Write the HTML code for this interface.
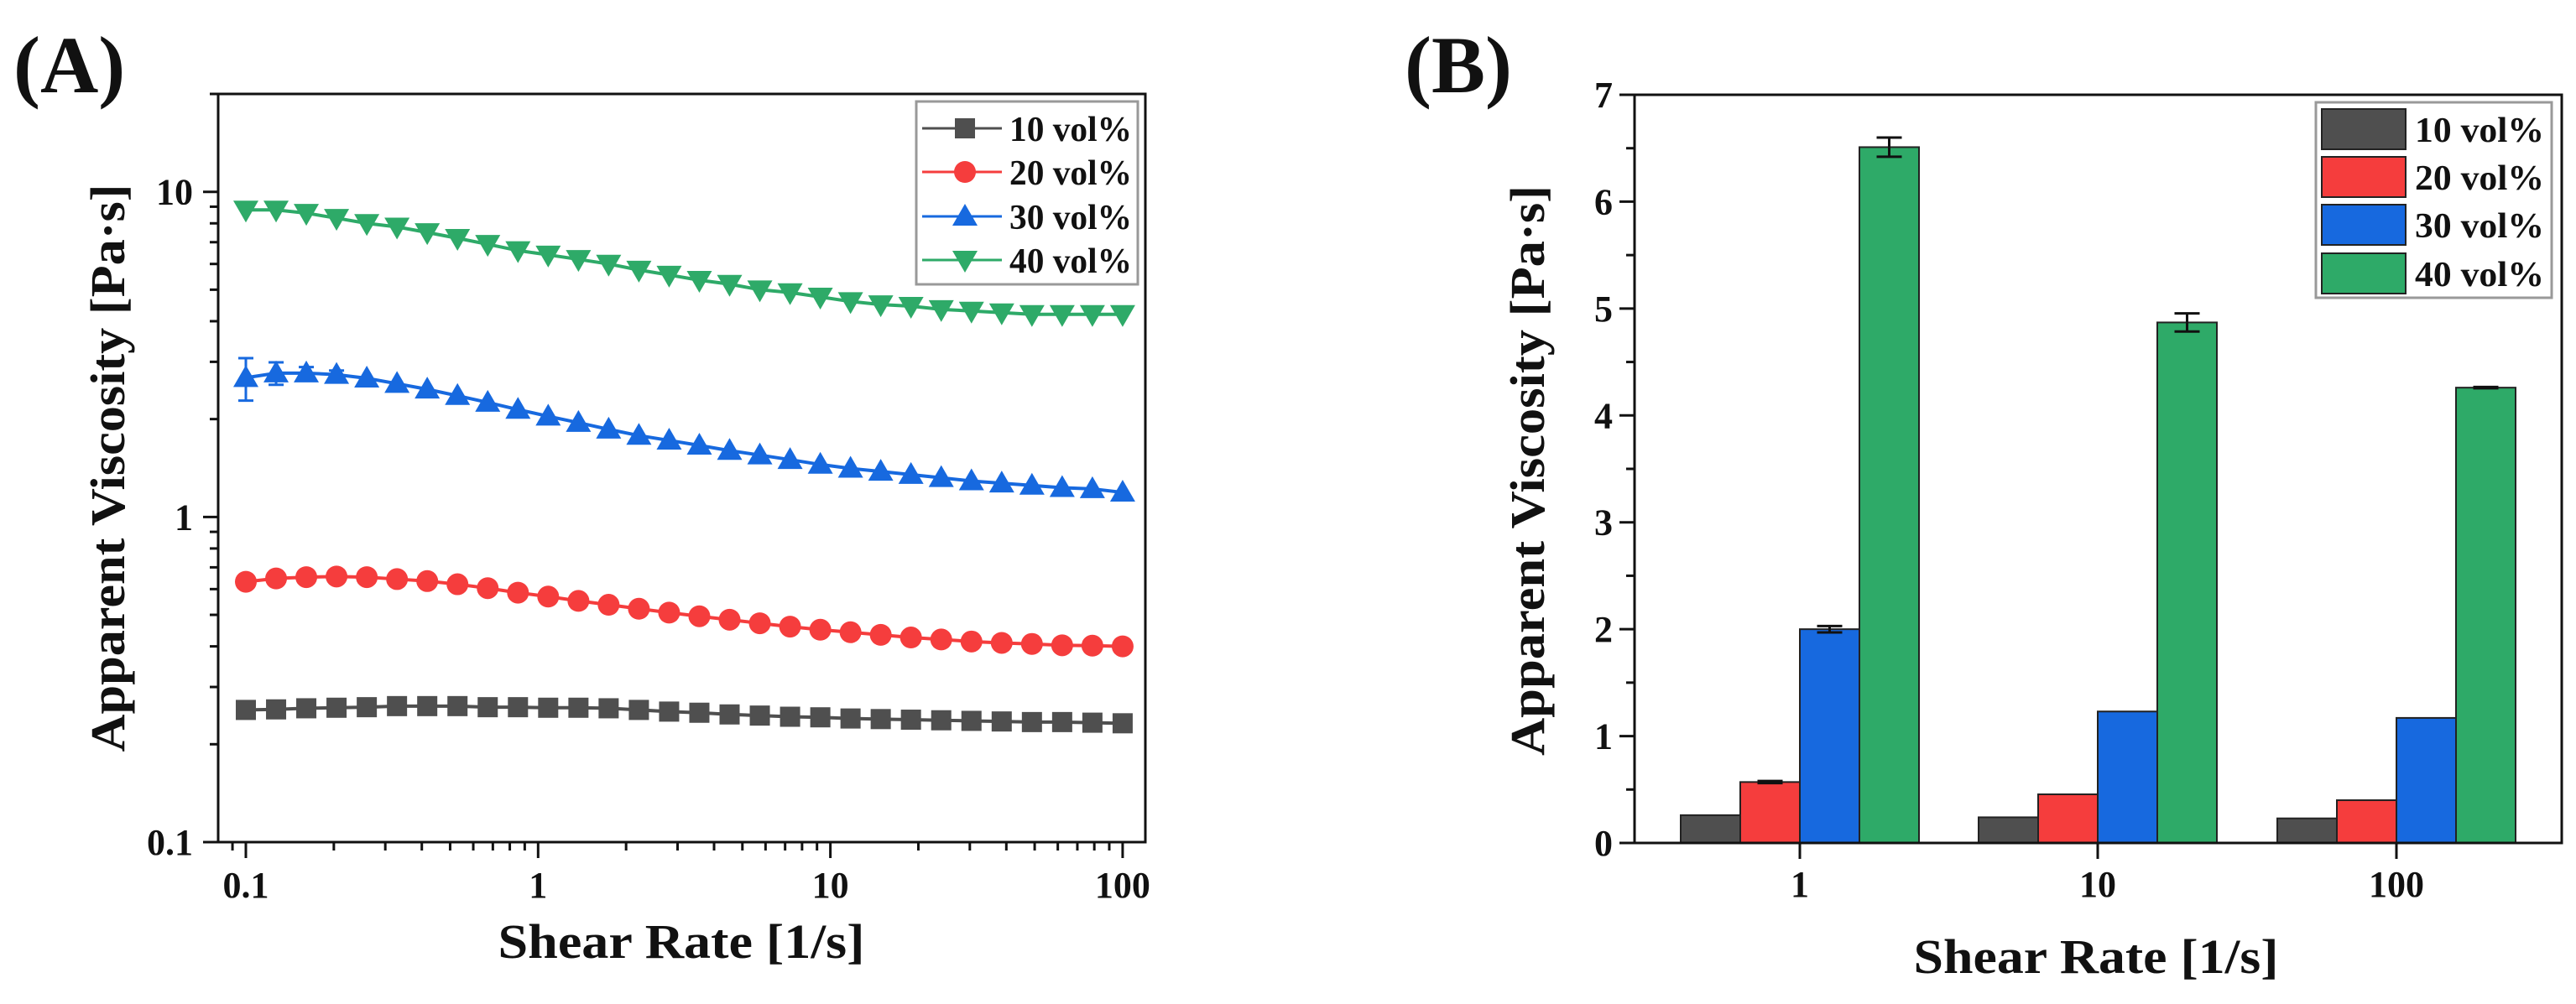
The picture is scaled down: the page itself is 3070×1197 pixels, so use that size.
<!DOCTYPE html>
<html><head><meta charset="utf-8"><style>
html,body{margin:0;padding:0;background:#fff;}
svg{display:block;}
text{font-family:"Liberation Serif",serif;font-weight:bold;fill:#111;}
</style></head><body>
<svg id="fig" xmlns="http://www.w3.org/2000/svg" width="3070" height="1197" viewBox="0 0 3070 1197">
<rect x="0" y="0" width="3070" height="1197" fill="#fff"/>
<text x="16" y="110" font-size="96">(A)</text>
<text x="1674" y="110" font-size="96">(B)</text>
<g id="A"></g>
<g id="B"></g>
</svg>
<script>
// ---------- Panel A data ----------
const shearRates = [0.1,0.1269,0.1610,0.2043,0.2593,0.3290,0.4175,0.5298,0.6723,0.8532,1.0826,1.374,1.743,2.212,2.807,3.562,4.520,5.736,7.279,9.237,11.72,14.87,18.87,23.95,30.39,38.57,48.94,62.10,78.80,100];
const visc10 = [0.255,0.256,0.258,0.259,0.26,0.262,0.262,0.262,0.26,0.26,0.259,0.259,0.258,0.255,0.252,0.25,0.247,0.245,0.243,0.242,0.24,0.239,0.238,0.237,0.236,0.235,0.234,0.234,0.233,0.232];
const visc20 = [0.632,0.647,0.653,0.656,0.653,0.644,0.635,0.621,0.604,0.585,0.569,0.552,0.537,0.522,0.508,0.495,0.483,0.471,0.46,0.45,0.442,0.434,0.426,0.42,0.414,0.41,0.407,0.403,0.402,0.40];
const visc30 = [2.68,2.77,2.77,2.74,2.67,2.57,2.47,2.36,2.25,2.14,2.04,1.95,1.86,1.78,1.72,1.66,1.60,1.55,1.50,1.45,1.41,1.38,1.35,1.32,1.29,1.27,1.25,1.23,1.22,1.19];
const err30 = [0.4,0.22,0.12,0.08,0.04,0.03,0.03,0.03,0.03,0.03,0.02,0.02,0.02,0.02,0.02,0.02,0.02,0.02,0.02,0.02,0.02,0.02,0.02,0.02,0.02,0.02,0.02,0.02,0.02,0.02];
const visc40 = [8.8,8.8,8.6,8.3,8.0,7.8,7.5,7.2,6.9,6.6,6.4,6.2,6.0,5.75,5.55,5.35,5.2,5.0,4.9,4.75,4.6,4.5,4.45,4.35,4.3,4.25,4.2,4.2,4.2,4.2];
const seriesLabels = ["10 vol%","20 vol%","30 vol%","40 vol%"];
const xTickLabelsA = ["0.1","1","10","100"];
const yTickLabelsA = ["0.1","1","10"];
// ---------- Panel B data ----------
const barCategories = ["1","10","100"];
const bar10 = [0.26,0.24,0.23];
const bar20 = [0.57,0.455,0.40];
const bar30 = [2.0,1.23,1.17];
const bar40 = [6.51,4.87,4.26];
const barErr10 = [0,0,0];
const barErr20 = [0.01,0,0];
const barErr30 = [0.03,0,0];
const barErr40 = [0.09,0.085,0.006];
const yTickLabelsB = ["0","1","2","3","4","5","6","7"];

const NS="http://www.w3.org/2000/svg";
const colors=["#4f4f4f","#f53d3d","#1769df","#2eaa68"];
function mk(tag,attrs,parent){const e=document.createElementNS(NS,tag);for(const k in attrs)e.setAttribute(k,attrs[k]);parent.appendChild(e);return e;}

// ===== Panel A =====
const A=document.getElementById('A');
const aL=260,aR=1365,aT=112,aB=1004;
const xlo=Math.log10(0.0804),xhi=Math.log10(119.6);
const ylo=-1,yhi=Math.log10(20);
const xA=v=>aL+(Math.log10(v)-xlo)/(xhi-xlo)*(aR-aL);
const yA=v=>aB-(Math.log10(v)-ylo)/(yhi-ylo)*(aB-aT);
let r=mk('rect',{x:aL,y:aT,width:aR-aL,height:aB-aT,fill:'none',stroke:'#111','stroke-width':3},A);


for(let d=-2;d<=2;d++){for(let m=1;m<10;m++){const v=m*Math.pow(10,d);if(v<0.0804||v>119.6)continue;const x=xA(v);
 const t=mk('line',{x1:x,x2:x,y1:aB,y2:aB+(m===1?19:10),stroke:'#111','stroke-width':3},A);
 
 }}
xTickLabelsA.forEach(s=>{const t=mk('text',{x:xA(parseFloat(s)),y:1070,'font-size':44,'text-anchor':'middle'},A);t.textContent=s;
 
 });
for(let d=-1;d<=1;d++){for(let m=1;m<10;m++){const v=m*Math.pow(10,d);if(v<0.1||v>20)continue;const y=yA(v);
 const t=mk('line',{x1:aL-(m===1?18:10),x2:aL,y1:y,y2:y,stroke:'#111','stroke-width':3},A);
 
 }}
yTickLabelsA.forEach(s=>{const t=mk('text',{x:230,y:yA(parseFloat(s))+15,'font-size':44,'text-anchor':'end'},A);t.textContent=s;
 
 });
let tt=mk('text',{x:812,y:1142,'font-size':58,'text-anchor':'middle',textLength:437,lengthAdjust:'spacingAndGlyphs'},A);tt.textContent='Shear Rate [1/s]';


tt=mk('text',{x:0,y:0,'font-size':58,'text-anchor':'middle',textLength:677,lengthAdjust:'spacingAndGlyphs',transform:'translate(148,558) rotate(-90)'},A);tt.textContent='Apparent Viscosity [Pa·s]';



function marker(kind,cx,cy,col,parent){
 let e;
 if(kind===0)e=mk('rect',{x:cx-12,y:cy-12,width:24,height:24,fill:col},parent);
 else if(kind===1)e=mk('circle',{cx:cx,cy:cy,r:13,fill:col},parent);
 else if(kind===2)e=mk('polygon',{points:`${cx},${cy-15} ${cx+15},${cy+11} ${cx-15},${cy+11}`,fill:col},parent);
 else e=mk('polygon',{points:`${cx},${cy+15} ${cx+15},${cy-11} ${cx-15},${cy-11}`,fill:col},parent);
 return e;}
const allSeries=[visc10,visc20,visc30,visc40];
allSeries.forEach((vals,si)=>{
 const g=mk('g',{},A);
 
 
 const pts=vals.map((v,i)=>xA(shearRates[i])+','+yA(v)).join(' ');
 const pl=mk('polyline',{points:pts,fill:'none',stroke:colors[si],'stroke-width':4},g);
 
 
 vals.forEach((v,i)=>{
  const cx=xA(shearRates[i]),cy=yA(v);
  if(si===2&&err30[i]>0.05){
   const y1=yA(v+err30[i]),y2=yA(v-err30[i]);
   const eb=mk('path',{d:`M${cx},${y1}V${y2}M${cx-9},${y1}H${cx+9}M${cx-9},${y2}H${cx+9}`,stroke:colors[si],'stroke-width':3,fill:'none'},g);
   
   }
  const m=marker(si,cx,cy,colors[si],g);
  
  });
});
let lg=mk('g',{},A);


mk('rect',{x:1092,y:121,width:264,height:218,fill:'#fff',stroke:'#999','stroke-width':3},lg);
const lgRowsA=[153,205,258,310];
seriesLabels.forEach((s,i)=>{
 const e=mk('g',{},lg);
 
 
 mk('line',{x1:1099,x2:1194,y1:lgRowsA[i],y2:lgRowsA[i],stroke:colors[i],'stroke-width':3},e);
 marker(i,1150,lgRowsA[i],colors[i],e);
 const t=mk('text',{x:1203,y:lgRowsA[i]+15,'font-size':42,textLength:146,lengthAdjust:'spacingAndGlyphs'},e);t.textContent=s;});

// ===== Panel B =====
const B=document.getElementById('B');
const bL=1948,bR=3053,bT=113,bB=1005;
const yB=v=>bB-v/7*(bB-bT);
const catX=[2145,2500,2856];
const bw=71;
yTickLabelsB.forEach((s,i)=>{
 const y=yB(parseFloat(s));
 const t=mk('line',{x1:bL-18,x2:bL,y1:y,y2:y,stroke:'#111','stroke-width':3},B);
 
 
 if(i<7){const y2=yB(parseFloat(s)+0.5);const mt=mk('line',{x1:bL-10,x2:bL,y1:y2,y2:y2,stroke:'#111','stroke-width':3},B);
 
 }
 const l=mk('text',{x:1922,y:y+15,'font-size':44,'text-anchor':'end'},B);l.textContent=s;
 
 });
const barSets=[bar10,bar20,bar30,bar40],errSets=[barErr10,barErr20,barErr30,barErr40];
barCategories.forEach((c,ci)=>{
 const g=mk('g',{},B);
 
 
 barSets.forEach((arr,si)=>{
  const x=catX[ci]-2*bw+si*bw,v=arr[ci];
  const b=mk('rect',{x:x,y:yB(v),width:bw,height:bB-yB(v),fill:colors[si],stroke:'#222','stroke-width':2},g);
  
  
  const e=errSets[si][ci];
  if(e>0){const cx=x+bw/2,y1=yB(v+e),y2=yB(v-e);
   const eb=mk('path',{d:`M${cx},${y1}V${y2}M${cx-15},${y1}H${cx+15}M${cx-15},${y2}H${cx+15}`,stroke:'#111','stroke-width':3,fill:'none'},g);
   
   }
 });
 const t=mk('line',{x1:catX[ci],x2:catX[ci],y1:bB,y2:bB+19,stroke:'#111','stroke-width':3},g);
 
 
 const l=mk('text',{x:catX[ci],y:1069,'font-size':44,'text-anchor':'middle'},g);l.textContent=c;
 
 
});
r=mk('rect',{x:bL,y:bT,width:bR-bL,height:bB-bT,fill:'none',stroke:'#111','stroke-width':3},B);


tt=mk('text',{x:2498,y:1160,'font-size':58,'text-anchor':'middle',textLength:435,lengthAdjust:'spacingAndGlyphs'},B);tt.textContent='Shear Rate [1/s]';


tt=mk('text',{x:0,y:0,'font-size':58,'text-anchor':'middle',textLength:680,lengthAdjust:'spacingAndGlyphs',transform:'translate(1840,561) rotate(-90)'},B);tt.textContent='Apparent Viscosity [Pa·s]';


lg=mk('g',{},B);


mk('rect',{x:2760,y:122,width:281,height:233,fill:'#fff',stroke:'#999','stroke-width':3},lg);
const lgRowsB=[130,187,244,302];
seriesLabels.forEach((s,i)=>{
 const e=mk('g',{},lg);
 
 
 mk('rect',{x:2767,y:lgRowsB[i],width:100,height:48,fill:colors[i],stroke:'#222','stroke-width':2},e);
 const t=mk('text',{x:2878,y:lgRowsB[i]+39,'font-size':42,textLength:154,lengthAdjust:'spacingAndGlyphs'},e);t.textContent=s;});
</script>
</body></html>
